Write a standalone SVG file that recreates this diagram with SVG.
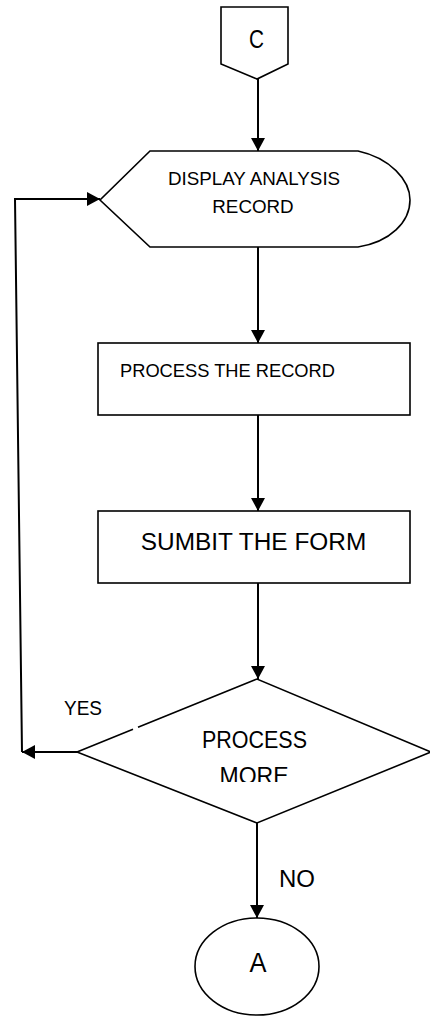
<svg xmlns="http://www.w3.org/2000/svg" width="430" height="1023" viewBox="0 0 430 1023">
<style>
.shape{fill:#fff;stroke:#000;stroke-width:1.6;stroke-linejoin:miter}
.conn{fill:none;stroke:#000;stroke-width:2}
text{font-family:"Liberation Sans",Arial,sans-serif;fill:#000}
</style>
<defs>
<marker id="arr" markerUnits="userSpaceOnUse" markerWidth="13" markerHeight="14" refX="13" refY="7" orient="auto">
<path d="M0,0 L13,7 L0,14 Z" fill="#000"/>
</marker>
<clipPath id="clipMore"><rect x="133" y="727" width="240" height="55"/></clipPath>
<clipPath id="clipNo"><rect x="270" y="855" width="60" height="32"/></clipPath>
</defs>
<rect width="430" height="1023" fill="#fff"/>
<g id="connectors">
<path class="conn" d="M258,79 L258,151" marker-end="url(#arr)"/>
<path class="conn" d="M258,247 L258,343" marker-end="url(#arr)"/>
<path class="conn" d="M258,415 L258,511" marker-end="url(#arr)"/>
<path class="conn" d="M258,583 L258,679" marker-end="url(#arr)"/>
<path class="conn" d="M77,752 L22,752" marker-end="url(#arr)"/>
<path class="conn" d="M22,752 L15,199 L100,199" marker-end="url(#arr)"/>
<path class="conn" d="M257,823 L257,918" marker-end="url(#arr)"/>
</g>
<g id="nodeC">
<path class="shape" d="M221,7 L288,7 L288,64 L257,79 L221,64 Z"/>
<text x="249" y="48" font-size="26" textLength="15" lengthAdjust="spacingAndGlyphs">C</text>
</g>
<g id="nodeDisplay">
<path class="shape" d="M150,151 L358,151 C390,158 410,180 410,200 C410,222 390,242 358,247 L150,247 L100,200 Z"/>
<text x="254" y="185" font-size="18.8" text-anchor="middle">DISPLAY ANALYSIS</text>
<text x="253" y="213" font-size="18.8" text-anchor="middle">RECORD</text>
</g>
<g id="nodeProcessRecord">
<rect class="shape" x="98" y="343" width="312" height="72"/>
<text x="120" y="377" font-size="18.5" textLength="215" lengthAdjust="spacingAndGlyphs">PROCESS THE RECORD</text>
</g>
<g id="nodeSubmit">
<rect class="shape" x="98" y="511" width="312" height="72"/>
<text x="253.5" y="550" font-size="24.4" text-anchor="middle">SUMBIT THE FORM</text>
</g>
<g id="nodeDecision">
<path class="shape" d="M138,727.3 L257,679 L431,752 L257,823 L77,752 L133,729.3" style="fill:#fff"/>
<text x="202" y="748" font-size="23" textLength="105" lengthAdjust="spacingAndGlyphs">PROCESS</text>
<text x="254" y="784" font-size="23" text-anchor="middle" clip-path="url(#clipMore)">MORE</text>
</g>
<g id="labels">
<text x="64" y="715" font-size="20" textLength="38" lengthAdjust="spacingAndGlyphs">YES</text>
<text x="279" y="887" font-size="24" clip-path="url(#clipNo)">NO</text>
</g>
<g id="nodeA">
<ellipse class="shape" cx="257" cy="966.5" rx="62" ry="48.5"/>
<text x="249.5" y="972" font-size="27" textLength="17" lengthAdjust="spacingAndGlyphs">A</text>
</g>
</svg>
